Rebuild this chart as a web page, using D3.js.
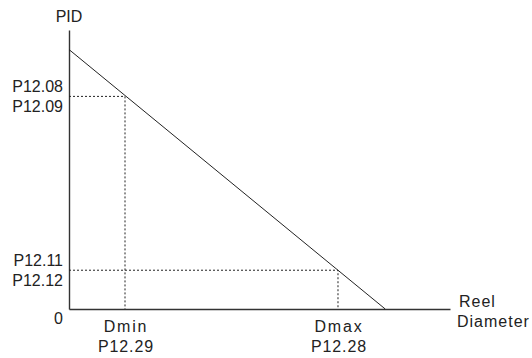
<!DOCTYPE html>
<html>
<head>
<meta charset="utf-8">
<script src="https://cdn.jsdelivr.net/npm/d3@7"></script>
<style>
  body { margin: 0; background: #fff; }
  text { font-family: "Liberation Sans", Arial, sans-serif; fill: #222; }
</style>
</head>
<body>
<script>
// data (abstract units)
const lineX = [0, 83];
const lineY = [93, 0];
const refX = [14.7, 70.6];
const refY = [76.2, 13.9];
const refYLabels = [["P12.08", "P12.09"], ["P12.11", "P12.12"]];
const refXLabels = [["Dmin", "P12.29"], ["Dmax", "P12.28"]];
const axisLabelY = "PID";
const axisLabelX = ["Reel", "Diameter"];
const originLabel = "0";

const width = 532, height = 358;
const margin = {top: 30, right: 82, bottom: 49, left: 69};

const svg = d3.select("body").append("svg")
  .attr("width", width)
  .attr("height", height);

const xScale = d3.scaleLinear().domain([0, 100]).range([margin.left, width - margin.right]);
const yScale = d3.scaleLinear().domain([0, 100]).range([height - margin.bottom, margin.top]);

// axes (plain lines, no ticks)
const xAxis = d3.axisBottom(xScale).tickValues([]).tickSizeOuter(0);
const yAxis = d3.axisLeft(yScale).tickValues([]).tickSizeOuter(0);

svg.append("g")
  .attr("transform", `translate(0,${yScale(0)})`)
  .call(xAxis)
  .call(g => g.select(".domain").attr("stroke", "#333").attr("stroke-width", 1.4));

svg.append("g")
  .attr("transform", `translate(${xScale(0)},0)`)
  .call(yAxis)
  .call(g => g.select(".domain").attr("stroke", "#333").attr("stroke-width", 1.4));

// dotted guides
refX.forEach((xv, i) => {
  const yv = refY[i];
  svg.append("path")
    .attr("d", d3.line()([[xScale(0), yScale(yv)], [xScale(xv), yScale(yv)], [xScale(xv), yScale(0)]]))
    .attr("fill", "none")
    .attr("stroke", "#222")
    .attr("stroke-width", 1)
    .attr("stroke-dasharray", "2,2");
});

// main line
const line = d3.line()
  .x(d => xScale(d[0]))
  .y(d => yScale(d[1]));

svg.append("path")
  .attr("d", line(d3.zip(lineX, lineY)))
  .attr("fill", "none")
  .attr("stroke", "#222")
  .attr("stroke-width", 1);

// y labels
refY.forEach((yv, i) => {
  const yy = yScale(yv);
  refYLabels[i].forEach((t, j) => {
    svg.append("text")
      .attr("x", xScale(0) - 6)
      .attr("y", yy + (j === 0 ? -4 : 16))
      .attr("text-anchor", "end")
      .attr("font-size", 16)
      .text(t);
  });
});

// x labels
refX.forEach((xv, i) => {
  const xx = xScale(xv) + 1;
  refXLabels[i].forEach((t, j) => {
    svg.append("text")
      .attr("x", xx)
      .attr("y", yScale(0) + (j === 0 ? 23 : 43))
      .attr("text-anchor", "middle")
      .attr("font-size", 16)
      .attr("letter-spacing", j === 0 ? 1.8 : 0.9)
      .text(t);
  });
});

svg.append("text")
  .attr("x", xScale(0) - 6)
  .attr("y", yScale(0) + 15)
  .attr("text-anchor", "end")
  .attr("font-size", 16)
  .text(originLabel);

svg.append("text")
  .attr("x", xScale(0))
  .attr("y", 22)
  .attr("text-anchor", "middle")
  .attr("font-size", 16)
  .text(axisLabelY);

axisLabelX.forEach((t, j) => {
  svg.append("text")
    .attr("x", j === 0 ? 459 : 457)
    .attr("y", yScale(0) + (j === 0 ? -2 : 18))
    .attr("font-size", 16)
    .attr("letter-spacing", 1)
    .text(t);
});
</script>
</body>
</html>
